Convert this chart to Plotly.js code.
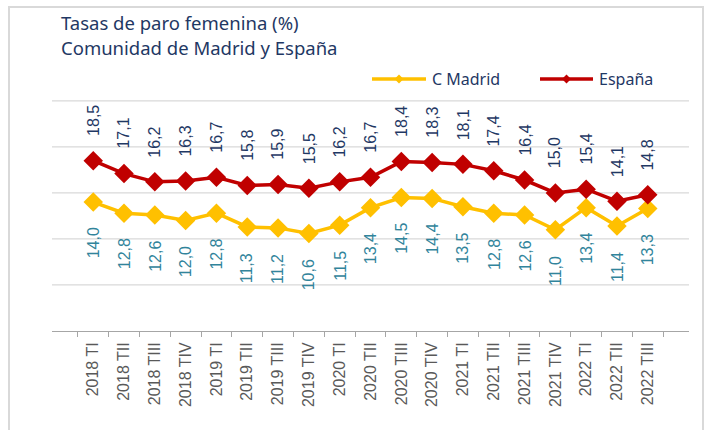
<!DOCTYPE html>
<html><head><meta charset="utf-8">
<script src="https://cdn.plot.ly/plotly-3.0.1.min.js"></script>
<style>
html,body{margin:0;padding:0;background:#fff;}
#wrap{position:relative;width:715px;height:430px;overflow:hidden;}
#frame{position:absolute;left:8px;top:6px;width:696px;height:440px;border:2px solid #d9d9d9;box-sizing:border-box;}
#chart{position:absolute;left:0;top:0;width:715px;height:430px;}
</style></head>
<body><div id="wrap"><div id="frame"></div><div id="chart"></div></div>
<script>
const categories = ["2018 TI","2018 TII","2018 TIII","2018 TIV","2019 TI","2019 TII","2019 TIII","2019 TIV","2020 TI","2020 TII","2020 TIII","2020 TIV","2021 TI","2021 TII","2021 TIII","2021 TIV","2022 TI","2022 TII","2022 TIII"];
const madrid = [14.0,12.8,12.6,12.0,12.8,11.3,11.2,10.6,11.5,13.4,14.5,14.4,13.5,12.8,12.6,11.0,13.4,11.4,13.3];
const espana = [18.5,17.1,16.2,16.3,16.7,15.8,15.9,15.5,16.2,16.7,18.4,18.3,18.1,17.4,16.4,15.0,15.4,14.1,14.8];
const titleLines = ["Tasas de paro femenina (%)","Comunidad de Madrid y España"];
const seriesNames = ["C Madrid","España"];
const gridVals = [5,10,15,20,25];

const cMadrid = "#FFC000", cEsp = "#C00000";
const navy = "#1F3864";
const fmt = v => v.toFixed(1).replace('.', ',');

const L=52, R=26, T=99, B=99, W=715, H=430;
const pw=W-L-R, ph=H-T-B;
const px = x => (x-L)/pw;
const py = y => (H-B-y)/ph;

const traces = [
  {x: categories, y: madrid, type:'scatter', mode:'lines+markers', name:seriesNames[0], showlegend:false,
   line:{color:cMadrid,width:3.5}, marker:{symbol:'diamond',size:15,color:cMadrid}},
  {x: categories, y: espana, type:'scatter', mode:'lines+markers', name:seriesNames[1], showlegend:false,
   line:{color:cEsp,width:3.5}, marker:{symbol:'diamond',size:15,color:cEsp}}
];

const lblFont = 'Liberation Sans, Arial, sans-serif';
const ann = [];
categories.forEach((c,i)=>{
  ann.push({x:c, y:espana[i], xref:'x', yref:'y', text:fmt(espana[i]), showarrow:false, textangle:-90,
    yanchor:'middle', yshift:40, font:{family:lblFont, size:16, color:navy}});
  ann.push({x:c, y:madrid[i], xref:'x', yref:'y', text:fmt(madrid[i]), showarrow:false, textangle:-90,
    yanchor:'middle', yshift:-41, font:{family:lblFont, size:16, color:'#31849B'}});
});
titleLines.forEach((t,i)=>{
  ann.push({x:px(59), y:py(23+i*25), xref:'paper', yref:'paper', text:t, showarrow:false, xanchor:'left', yanchor:'middle',
    font:{family:'Noto Sans, sans-serif', size:18.5, color:navy}});
});

const shapes = [];
gridVals.forEach(g=>{
  shapes.push({type:'line', xref:'paper', yref:'y', x0:0, x1:1, y0:g, y1:g, layer:'below',
    line:{color:'#d9d9d9', width:1.3}});
});
const legItems = [{name:seriesNames[0], color:cMadrid, x0:372, x1:426, tx:430},
                  {name:seriesNames[1], color:cEsp, x0:540, x1:593, tx:597}];
const ly = 79;
legItems.forEach(it=>{
  shapes.push({type:'line', xref:'paper', yref:'paper', x0:px(it.x0), x1:px(it.x1), y0:py(ly), y1:py(ly),
    line:{color:it.color, width:3.5}});
  const cx=(it.x0+it.x1)/2, d=4.5;
  shapes.push({type:'path', xref:'paper', yref:'paper',
    path:`M ${px(cx)},${py(ly-d)} L ${px(cx+d)},${py(ly)} L ${px(cx)},${py(ly+d)} L ${px(cx-d)},${py(ly)} Z`,
    fillcolor:it.color, line:{width:0}});
  ann.push({x:px(it.tx), y:py(ly), xref:'paper', yref:'paper', text:it.name, showarrow:false, xanchor:'left', yanchor:'middle',
    font:{family:'Noto Sans, sans-serif', size:16, color:navy}});
});

const layout = {
  width:W, height:H, margin:{l:L,r:R,t:T,b:B,pad:0},
  paper_bgcolor:'rgba(0,0,0,0)', plot_bgcolor:'rgba(0,0,0,0)',
  font:{family:lblFont, color:'#595959'},
  xaxis:{type:'category', tickangle:-90, tickson:'boundaries', ticks:'outside', ticklen:5, tickcolor:'#a6a6a6',
    ticklabelstandoff:4,
    showline:true, linecolor:'#a6a6a6', linewidth:1, showgrid:false, tickfont:{size:16,color:'#595959'}, fixedrange:true},
  yaxis:{range:[0,25.2], showticklabels:false, showgrid:false, zeroline:false, fixedrange:true},
  showlegend:false,
  shapes:shapes,
  annotations:ann
};
Plotly.newPlot('chart', traces, layout, {displayModeBar:false, staticPlot:true});
</script></body></html>
